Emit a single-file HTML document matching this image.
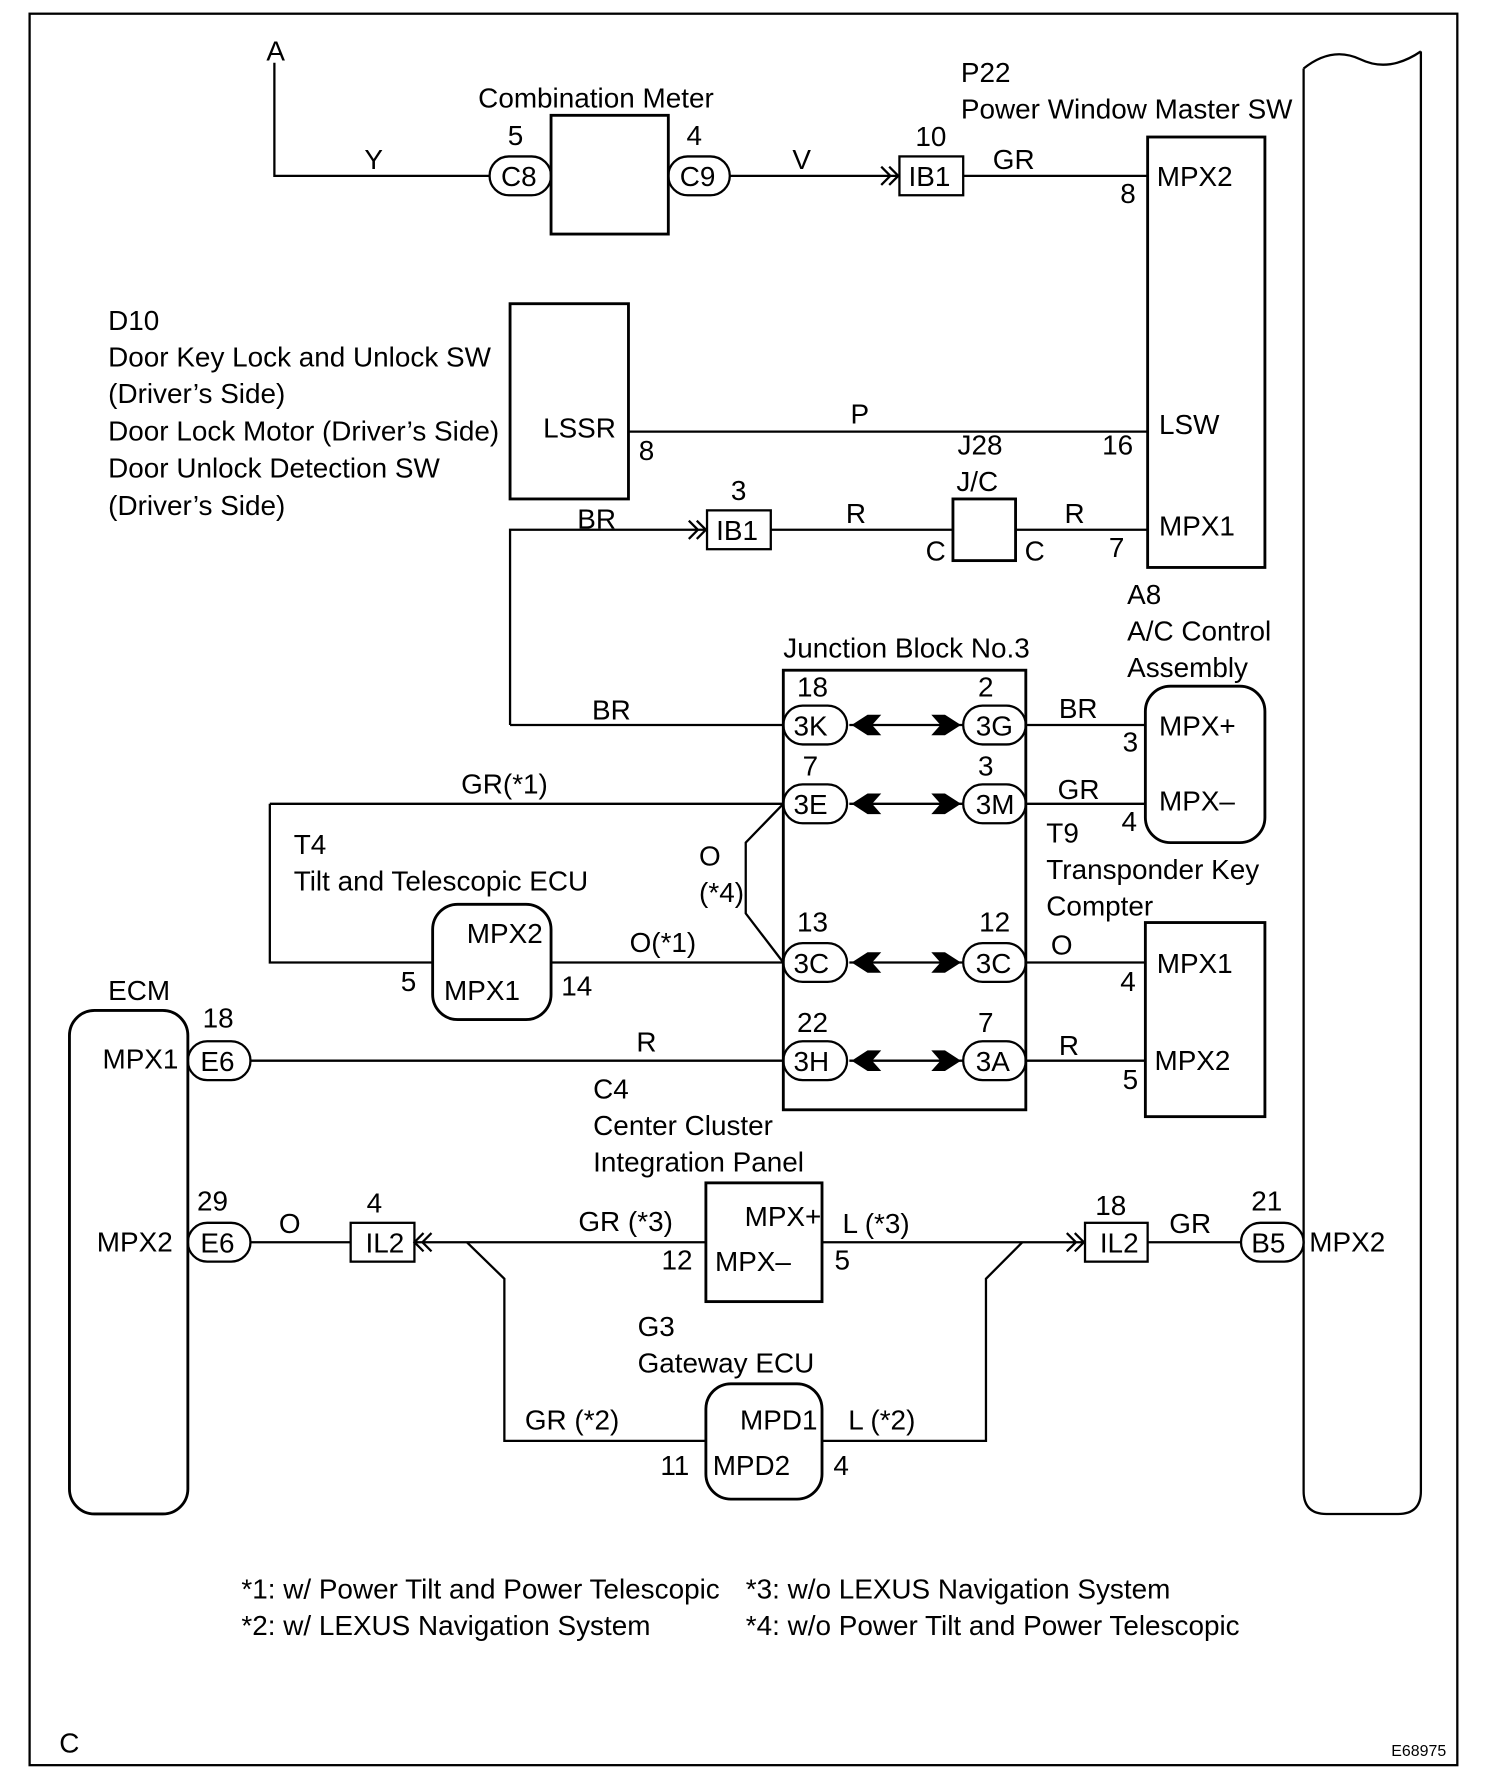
<!DOCTYPE html>
<html><head><meta charset="utf-8"><style>
html,body{margin:0;padding:0;background:#fff}
svg{display:block}
text{font-family:"Liberation Sans",Arial,sans-serif;font-size:24.5px;fill:#000}
</style></head><body>
<svg width="1504" height="1788" viewBox="0 0 1321 1566" preserveAspectRatio="none" xmlns="http://www.w3.org/2000/svg">
<defs>
<g id="chL"><path d="M0,0 L14,-9 L26,-9 L18,0 L26,9 L14,9 Z" fill="#000"/></g>
<g id="chR"><path d="M0,0 L-14,-9 L-26,-9 L-18,0 L-26,9 L-14,9 Z" fill="#000"/></g>
</defs>
<g fill="none" stroke="#000" stroke-width="2">
<rect x="26" y="12" width="1254" height="1534"/>
<path d="M1145,60 Q1170,40 1195,52 Q1220,64 1248,45 M1145,60 L1145,1306 Q1145,1326 1165,1326 L1228,1326 Q1248,1326 1248,1306 L1248,45"/>
<path d="M241,55 L241,154 L430,154"/>
<rect x="430" y="137" width="54" height="34" rx="17"/>
<rect x="484" y="101" width="103" height="104" stroke-width="2.5"/>
<rect x="587" y="137" width="54" height="34" rx="17"/>
<path d="M641,154 L790,154 M774,146 L782,154 L774,162 M781,146 L789,154 L781,162"/>
<rect x="790" y="137" width="56" height="34"/>
<path d="M846,154 L1008,154"/>
<rect x="1008" y="120" width="103" height="377" stroke-width="2.5"/>
<rect x="448" y="266" width="104" height="171" stroke-width="2.5"/>
<path d="M552,378 L1008,378"/>
<path d="M448,635 L448,464 L621,464 M605,456 L613,464 L605,472 M612,456 L620,464 L612,472"/>
<rect x="621" y="447" width="56" height="34"/>
<path d="M677,464 L837,464 M892,464 L1008,464"/>
<rect x="837" y="437" width="55" height="54" stroke-width="2.5"/>
<rect x="1006" y="601" width="105" height="137" rx="22" stroke-width="2.5"/>
<rect x="688" y="587" width="213" height="385" stroke-width="2.5"/>
<path d="M448,635 L688,635 M901,635 L1006,635 M901,704 L1006,704 M901,843 L1006,843 M901,929 L1006,929"/>
<path d="M237,704 L688,704 M237,704 L237,843 L380,843 M484,843 L688,843"/>
<path d="M688,704 L655,738 L655,800 L688,843"/>
<path d="M746,635 L846,635 M746,704 L846,704 M746,843 L846,843 M746,929 L846,929"/>
<rect x="688" y="618" width="56" height="34" rx="17"/><rect x="846" y="618" width="55" height="34" rx="17"/>
<rect x="688" y="687" width="56" height="34" rx="17"/><rect x="846" y="687" width="55" height="34" rx="17"/>
<rect x="688" y="826" width="56" height="34" rx="17"/><rect x="846" y="826" width="55" height="34" rx="17"/>
<rect x="688" y="912" width="56" height="34" rx="17"/><rect x="846" y="912" width="55" height="34" rx="17"/>
<rect x="380" y="792" width="104" height="101" rx="22" stroke-width="2.5"/>
<rect x="1006" y="808" width="105" height="170" stroke-width="2.5"/>
<rect x="61" y="885" width="104" height="441" rx="22" stroke-width="2.5"/>
<rect x="165" y="912" width="55" height="34" rx="17"/>
<path d="M220,929 L688,929"/>
<rect x="165" y="1071" width="55" height="34" rx="17"/>
<path d="M220,1088 L308,1088"/>
<rect x="308" y="1071" width="56" height="34"/>
<path d="M372,1080 L364,1088 L372,1096 M379,1080 L371,1088 L379,1096 M364,1088 L620,1088"/>
<rect x="620" y="1036" width="102" height="104" stroke-width="2.5"/>
<path d="M722,1088 L953,1088 M937,1080 L945,1088 L937,1096 M944,1080 L952,1088 L944,1096"/>
<rect x="953" y="1071" width="55" height="34"/>
<path d="M1008,1088 L1090,1088"/>
<rect x="1090" y="1071" width="55" height="34" rx="17"/>
<path d="M410,1088 L443,1120 L443,1262 L620,1262 M722,1262 L866,1262 L866,1120 L898,1088"/>
<rect x="620" y="1212" width="102" height="101" rx="22" stroke-width="2.5"/>
</g>
<g>
<use href="#chL" x="748" y="635"/><use href="#chR" x="844" y="635"/>
<use href="#chL" x="748" y="704"/><use href="#chR" x="844" y="704"/>
<use href="#chL" x="748" y="843"/><use href="#chR" x="844" y="843"/>
<use href="#chL" x="748" y="929"/><use href="#chR" x="844" y="929"/>
</g>
<g>
<text x="234" y="53">A</text>
<text x="320" y="148">Y</text>
<text x="420" y="94">Combination Meter</text>
<text x="446" y="127">5</text><text x="603" y="127">4</text>
<text x="440" y="163">C8</text><text x="597" y="163">C9</text>
<text x="696" y="148">V</text>
<text x="804" y="128">10</text>
<text x="798" y="163">IB1</text>
<text x="872" y="148">GR</text>
<text x="984" y="178">8</text>
<text x="844" y="72">P22</text>
<text x="844" y="104">Power Window Master SW</text>
<text x="1016" y="163">MPX2</text>
<text x="1018" y="380">LSW</text>
<text x="1018" y="469">MPX1</text>
<text x="95" y="289">D10</text>
<text x="95" y="321">Door Key Lock and Unlock SW</text>
<text x="95" y="353">(Driver’s Side)</text>
<text x="95" y="386">Door Lock Motor (Driver’s Side)</text>
<text x="95" y="418">Door Unlock Detection SW</text>
<text x="95" y="451">(Driver’s Side)</text>
<text x="477" y="383">LSSR</text>
<text x="561" y="403">8</text>
<text x="747" y="371">P</text>
<text x="968" y="398">16</text>
<text x="841" y="398">J28</text>
<text x="840" y="430">J/C</text>
<text x="507" y="463">BR</text>
<text x="642" y="438">3</text>
<text x="629" y="473">IB1</text>
<text x="743" y="458">R</text>
<text x="935" y="458">R</text>
<text x="813" y="491">C</text><text x="900" y="491">C</text>
<text x="974" y="488">7</text>
<text x="990" y="529">A8</text>
<text x="990" y="561">A/C Control</text>
<text x="990" y="593">Assembly</text>
<text x="1018" y="644">MPX+</text>
<text x="1018" y="710">MPX–</text>
<text x="986" y="658">3</text><text x="985" y="728">4</text>
<text x="688" y="576">Junction Block No.3</text>
<text x="700" y="610">18</text><text x="859" y="610">2</text>
<text x="705" y="679">7</text><text x="859" y="679">3</text>
<text x="700" y="816">13</text><text x="860" y="816">12</text>
<text x="700" y="904">22</text><text x="859" y="904">7</text>
<text x="697" y="644">3K</text><text x="857" y="644">3G</text>
<text x="697" y="713">3E</text><text x="857" y="713">3M</text>
<text x="697" y="852">3C</text><text x="857" y="852">3C</text>
<text x="697" y="938">3H</text><text x="857" y="938">3A</text>
<text x="520" y="630">BR</text>
<text x="930" y="629">BR</text>
<text x="929" y="700">GR</text>
<text x="405" y="695">GR(*1)</text>
<text x="258" y="748">T4</text>
<text x="258" y="780">Tilt and Telescopic ECU</text>
<text x="410" y="826">MPX2</text>
<text x="390" y="876">MPX1</text>
<text x="352" y="868">5</text><text x="493" y="872">14</text>
<text x="553" y="834">O(*1)</text>
<text x="614" y="758">O</text>
<text x="614" y="790">(*4)</text>
<text x="919" y="738">T9</text>
<text x="919" y="770">Transponder Key</text>
<text x="919" y="802">Compter</text>
<text x="923" y="836">O</text>
<text x="1016" y="852">MPX1</text>
<text x="1014" y="937">MPX2</text>
<text x="984" y="868">4</text><text x="986" y="954">5</text>
<text x="930" y="924">R</text>
<text x="95" y="876">ECM</text>
<text x="90" y="936">MPX1</text>
<text x="85" y="1096">MPX2</text>
<text x="178" y="900">18</text>
<text x="176" y="938">E6</text>
<text x="559" y="921">R</text>
<text x="521" y="962">C4</text>
<text x="521" y="994">Center Cluster</text>
<text x="521" y="1026">Integration Panel</text>
<text x="654" y="1074">MPX+</text>
<text x="628" y="1113">MPX–</text>
<text x="581" y="1112">12</text><text x="733" y="1112">5</text>
<text x="173" y="1060">29</text>
<text x="176" y="1097">E6</text>
<text x="245" y="1080">O</text>
<text x="322" y="1062">4</text>
<text x="321" y="1097">IL2</text>
<text x="508" y="1078">GR (*3)</text>
<text x="740" y="1080">L (*3)</text>
<text x="962" y="1064">18</text>
<text x="966" y="1097">IL2</text>
<text x="1027" y="1080">GR</text>
<text x="1099" y="1060">21</text>
<text x="1099" y="1097">B5</text>
<text x="1150" y="1096">MPX2</text>
<text x="560" y="1170">G3</text>
<text x="560" y="1202">Gateway ECU</text>
<text x="461" y="1252">GR (*2)</text>
<text x="745" y="1252">L (*2)</text>
<text x="650" y="1252">MPD1</text>
<text x="626" y="1292">MPD2</text>
<text x="580" y="1292">11</text><text x="732" y="1292">4</text>
<text x="212" y="1400">*1: w/ Power Tilt and Power Telescopic</text>
<text x="212" y="1432">*2: w/ LEXUS Navigation System</text>
<text x="655" y="1400">*3: w/o LEXUS Navigation System</text>
<text x="655" y="1432">*4: w/o Power Tilt and Power Telescopic</text>
<text x="52" y="1535">C</text>
<text x="1222" y="1538" style="font-size:14px">E68975</text>
</g>
</svg>
</body></html>
